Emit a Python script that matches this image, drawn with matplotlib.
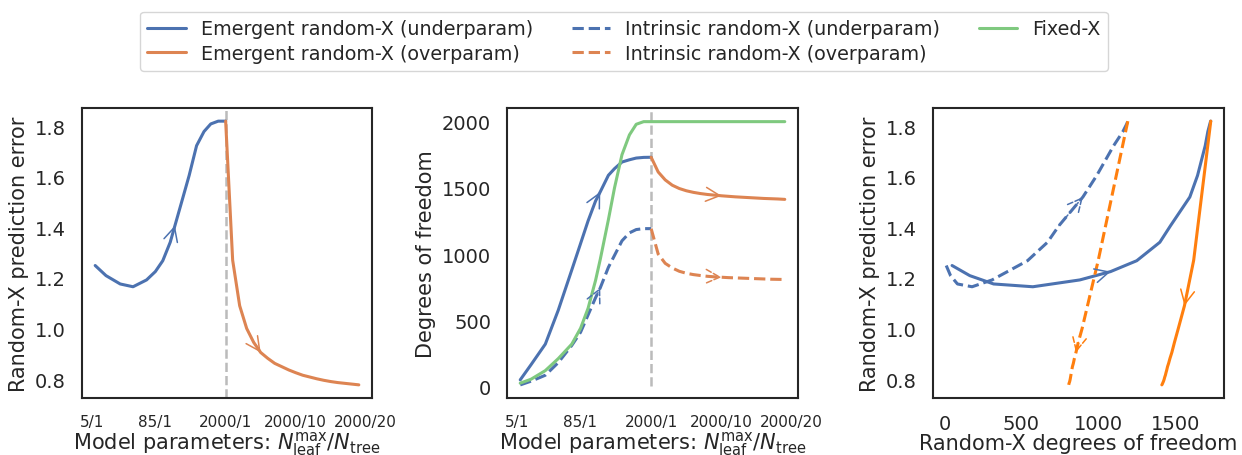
import numpy as np
import matplotlib
matplotlib.use('Agg')
import matplotlib.pyplot as plt
import seaborn as sns

sns.set_style('white')
plt.rcParams['font.family'] = ['DejaVu Sans']

# underparam branch: N_leaf^max grows with one tree (positions on the categorical x axis)
under_pos = [0, 1.6, 3.7, 5.6, 7.6, 8.9, 10.0, 11.1, 11.8, 13.0, 13.9, 15.0, 16.1, 17.1, 18.2, 19.3]
under_err = [1.249, 1.209, 1.176, 1.165, 1.192, 1.225, 1.268, 1.341, 1.407, 1.52, 1.605, 1.723, 1.779, 1.809, 1.82, 1.82]
under_df_em = [50, 165, 320, 575, 880, 1080, 1250, 1400, 1470, 1595, 1645, 1695, 1712, 1725, 1730, 1731]
under_df_in = [12, 40, 85, 180, 310, 410, 540, 670, 745, 900, 990, 1100, 1160, 1185, 1192, 1192]
under_df_fixed = [25, 55, 120, 210, 320, 440, 590, 800, 960, 1260, 1500, 1750, 1900, 1980, 2000, 2000]

# overparam branch: N_leaf^max = 2000, N_tree = 1..20
n_tree = np.arange(1, 21)
over_err = [1.82, 1.27, 1.09, 1.0, 0.945, 0.905, 0.882, 0.862, 0.849, 0.836,
            0.825, 0.815, 0.808, 0.801, 0.795, 0.79, 0.786, 0.783, 0.78, 0.777]
over_df_em = [1731, 1620, 1560, 1520, 1495, 1478, 1466, 1457, 1450, 1445,
              1440, 1436, 1432, 1429, 1426, 1423, 1420, 1418, 1416, 1413]
over_df_in = [1192, 1000, 930, 895, 870, 855, 845, 838, 832, 828,
              825, 822, 820, 818, 816, 814, 812, 810, 809, 808]
over_df_fixed = [2000] * 20

tick_labels = ['5/1', '85/1', '2000/1', '2000/10', '2000/20']
tick_pos = [-0.5, 8.8, 19.3, 29.6, 39.9]

split = under_pos[-1]
over_pos = split + (n_tree - 1) * (39.0 - split) / 19

c_blue = '#4c72b0'
c_orange = '#dd8452'
c_orange2 = '#ff7f0e'
c_green = '#7fc97f'
lw = 2.2

fig = plt.figure(figsize=(12.42, 4.56), dpi=100)
W, H = 1242, 456
ax1 = fig.add_axes([82 / W, 57 / H, 290 / W, 290 / H])
ax2 = fig.add_axes([507 / W, 57 / H, 291 / W, 290 / H])
ax3 = fig.add_axes([933 / W, 57 / H, 291 / W, 290 / H])


def arrow(ax, x, y, i, color, ls='-'):
    ax.annotate('', xy=(x[i], y[i]), xytext=(x[i - 1], y[i - 1]),
                arrowprops=dict(arrowstyle='->', color=color, lw=1.1, linestyle=ls,
                                mutation_scale=25, shrinkA=0, shrinkB=0))


xlab = r'Model parameters: $N^{\mathrm{max}}_{\mathrm{leaf}}/N_{\mathrm{tree}}$'

# panel 1
ax1.plot(under_pos, under_err, color=c_blue, lw=lw)
ax1.plot(over_pos, over_err, color=c_orange, lw=lw)
ax1.set_ylim(0.725, 1.872)
ax1.axvline(split, color='#bbbbbb', ls='--', lw=1.8, zorder=0)
arrow(ax1, under_pos, under_err, 8, c_blue)
arrow(ax1, over_pos, over_err, 5, c_orange)
ax1.set_ylabel('Random-X prediction error', fontsize=15)
ax1.set_yticks([0.8, 1.0, 1.2, 1.4, 1.6, 1.8])

# panel 2
ax2.plot(under_pos, under_df_em, color=c_blue, lw=lw, label='Emergent random-X (underparam)')
ax2.plot(over_pos, over_df_em, color=c_orange, lw=lw, label='Emergent random-X (overparam)')
ax2.plot(under_pos, under_df_in, color=c_blue, lw=lw, ls='--', label='Intrinsic random-X (underparam)')
ax2.plot(over_pos, over_df_in, color=c_orange, lw=lw, ls='--', label='Intrinsic random-X (overparam)')
ax2.plot(list(under_pos) + list(over_pos[1:]), under_df_fixed + over_df_fixed[1:],
         color=c_green, lw=lw, label='Fixed-X')
ax2.set_ylim(-87, 2103)
ax2.vlines(split, 0, 2103, color='#bbbbbb', ls='--', lw=1.8, zorder=0)
arrow(ax2, under_pos, under_df_em, 8, c_blue)
arrow(ax2, under_pos, under_df_in, 8, c_blue, '--')
arrow(ax2, over_pos, over_df_em, 10, c_orange)
arrow(ax2, over_pos, over_df_in, 10, c_orange, '--')
ax2.set_ylabel('Degrees of freedom', fontsize=15)
ax2.set_yticks([0, 500, 1000, 1500, 2000])

for ax in (ax1, ax2):
    ax.set_xlim(-1.95, 40.95)
    ax.set_xticks(tick_pos)
    ax.set_xticklabels(tick_labels)
    ax.tick_params(axis='x', pad=8, labelsize=11)
    ax.set_xlabel(xlab, fontsize=15, labelpad=0)

# panel 3
ax3.plot(under_df_em, under_err, color=c_blue, lw=lw)
ax3.plot(over_df_em, over_err, color=c_orange2, lw=lw)
ax3.plot(under_df_in, under_err, color=c_blue, lw=lw, ls='--')
ax3.plot(over_df_in, over_err, color=c_orange2, lw=lw, ls='--')
arrow(ax3, under_df_em, under_err, 5, c_blue)
arrow(ax3, under_df_in, under_err, 9, c_blue, '--')
arrow(ax3, over_df_em, over_err, 2, c_orange2)
arrow(ax3, over_df_in, over_err, 5, c_orange2, '--')
ax3.set_ylim(0.725, 1.872)
ax3.set_xticks([0, 500, 1000, 1500])
ax3.set_yticks([0.8, 1.0, 1.2, 1.4, 1.6, 1.8])
ax3.set_ylabel('Random-X prediction error', fontsize=15)
ax3.set_xlabel('Random-X degrees of freedom', fontsize=15, labelpad=0)
ax3.tick_params(axis='x', pad=8, labelsize=14)

for ax in (ax1, ax2, ax3):
    ax.tick_params(axis='y', labelsize=14, pad=8)
    for s in ax.spines.values():
        s.set_linewidth(1.5)
        s.set_color('#262626')

fig.legend(loc='upper center', bbox_to_anchor=(624 / W, 1 - 3 / H), ncol=3,
           fontsize=13.8, frameon=True, labelspacing=0.3, columnspacing=2.0)

plt.savefig('out.png', dpi=100)
plt.close()
